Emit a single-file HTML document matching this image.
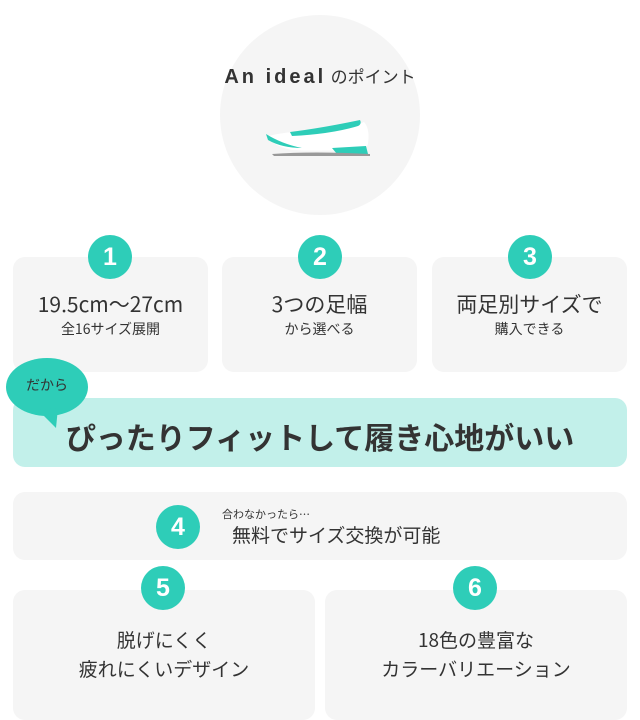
<!DOCTYPE html>
<html><head><meta charset="utf-8"><style>
body{margin:0;width:640px;height:703px;background:#fff;position:relative;overflow:hidden;font-family:"Liberation Sans","Noto Sans CJK JP",sans-serif;color:#333}
.a{position:absolute}
.box{position:absolute;background:#f5f5f5;border-radius:12px}
.b{position:absolute;width:44px;height:44px;border-radius:50%;background:#2ecdb8;color:#fff;font-size:25px;text-align:center;line-height:44px;font-family:"Liberation Sans",sans-serif;font-weight:bold}
.t{position:absolute;text-align:center;white-space:nowrap;font-family:"Noto Sans CJK JP",sans-serif}
</style></head><body>
<div class="a" style="left:220px;top:15px;width:200px;height:200px;border-radius:50%;background:#f5f5f5"></div>
<div class="t" style="left:190px;width:260px;top:61px;font-size:20px;line-height:28px"><span style="font-family:'Liberation Sans',sans-serif;font-weight:bold;letter-spacing:3px">An ideal</span> <span style="font-size:17px">のポイント</span></div>
<svg class="a" style="left:262px;top:118px" width="120" height="42" viewBox="0 0 120 42">
<path d="M6 18 Q30 12 60 14 Q85 12 102 4 Q108 10 106 26 L104 30 Q70 34 30 32 Q10 28 6 18Z" fill="#fff"/>
<path d="M28 14 Q60 10 98 2 Q100 6 96 8 Q70 16 30 18Z" fill="#2ecdb8"/>
<path d="M4 16 Q20 26 40 30 Q20 30 6 22Z" fill="#2ecdb8"/>
<path d="M70 30 L104 28 L106 36 L75 36Z" fill="#2ecdb8"/>
<path d="M10 36 Q50 33 108 36 L108 38 L12 38Z" fill="#999"/>
</svg>
<div class="box" style="left:13px;top:257px;width:195px;height:115px"></div>
<div class="box" style="left:222px;top:257px;width:195px;height:115px"></div>
<div class="box" style="left:432px;top:257px;width:195px;height:115px"></div>
<div class="b" style="left:88px;top:235px">1</div>
<div class="b" style="left:298px;top:235px">2</div>
<div class="b" style="left:508px;top:235px">3</div>
<div class="t" style="left:13px;width:195px;top:289px;font-size:21px;line-height:30px">19.5cm〜27cm</div>
<div class="t" style="left:13px;width:195px;top:319px;font-size:14px;line-height:20px">全16サイズ展開</div>
<div class="t" style="left:222px;width:195px;top:289px;font-size:21px;line-height:30px">3つの足幅</div>
<div class="t" style="left:222px;width:195px;top:319px;font-size:14px;line-height:20px">から選べる</div>
<div class="t" style="left:432px;width:195px;top:289px;font-size:21px;line-height:30px">両足別サイズで</div>
<div class="t" style="left:432px;width:195px;top:319px;font-size:14px;line-height:20px">購入できる</div>
<div class="a" style="left:13px;top:398px;width:614px;height:69px;background:#c2f0ea;border-radius:12px"></div>
<svg class="a" style="left:0;top:350px" width="100" height="85"><ellipse cx="47" cy="37" rx="41" ry="29" fill="#2ecdb8"/><path d="M38 60 L56 78 L58 58Z" fill="#2ecdb8"/></svg>
<div class="t" style="left:6px;width:82px;top:375px;font-size:14px;line-height:20px">だから</div>
<div class="t" style="left:13px;width:614px;top:415px;font-size:30px;line-height:42px;font-weight:bold">ぴったりフィットして履き心地がいい</div>
<div class="box" style="left:13px;top:492px;width:614px;height:68px"></div>
<div class="b" style="left:156px;top:505px">4</div>
<div class="t" style="left:222px;top:507px;font-size:11px;line-height:14px;text-align:left">合わなかったら…</div>
<div class="t" style="left:232px;top:521px;font-size:19px;line-height:28px;text-align:left">無料でサイズ交換が可能</div>
<div class="box" style="left:13px;top:590px;width:302px;height:130px"></div>
<div class="box" style="left:325px;top:590px;width:302px;height:130px"></div>
<div class="b" style="left:141px;top:566px">5</div>
<div class="b" style="left:453px;top:566px">6</div>
<div class="t" style="left:13px;width:302px;top:625px;font-size:19px;line-height:29px">脱げにくく<br>疲れにくいデザイン</div>
<div class="t" style="left:325px;width:302px;top:625px;font-size:19px;line-height:29px">18色の豊富な<br>カラーバリエーション</div>
</body></html>
